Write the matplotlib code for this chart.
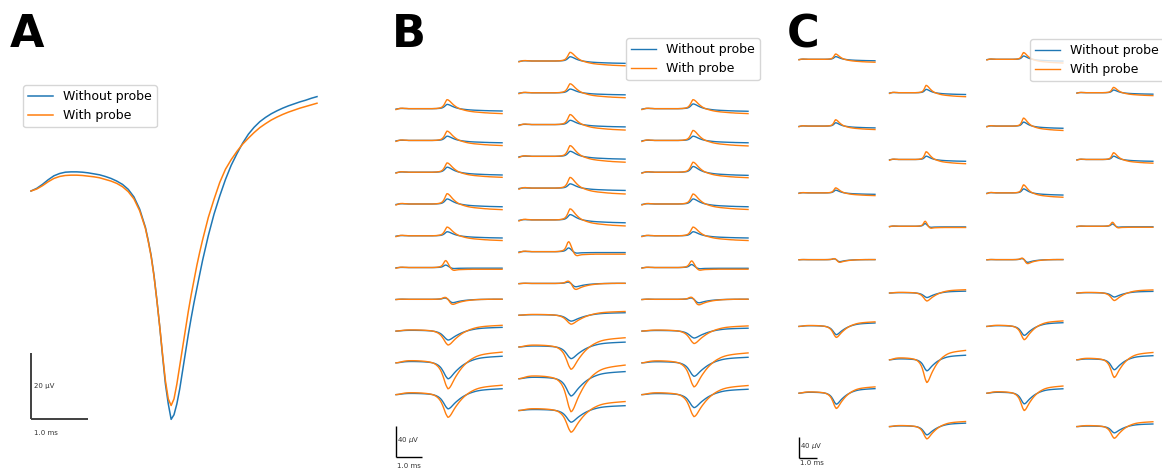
import matplotlib.pyplot as plt
import numpy as np

# ---------------------------------------------------------------- data
# sample times (ms): 0.1 ms steps, 0.05 ms around the spike
t_ms = np.concatenate([np.linspace(0, 2.0, 21), np.linspace(2.05, 3.0, 20),
                       np.linspace(3.1, 5.0, 20)])

# panel A: spike on the closest site (uV)
a_without = np.array([
    0, 0.8, 2.0, 3.4, 4.6, 5.3, 5.7, 5.8, 5.8, 5.7, 5.5, 5.2, 4.9, 4.4, 3.8, 3.0, 2.0,
    0.5, -1.8, -5.5, -11,
    -15, -19.5, -25.5, -33, -41, -50, -58.5, -64.5, -69.2, -67.8, -64.5, -60, -54.5,
    -49, -43.5, -38.5, -33.8, -29.5, -25.2, -21,
    -13.5, -7, -1.5, 3.5, 7.8, 11.3, 14.5, 17.2, 19.3, 21, 22.3, 23.4, 24.3, 25.1,
    25.8, 26.4, 27, 27.5, 28.1, 28.6])
a_with = np.array([
    0, 0.6, 1.6, 2.8, 3.8, 4.4, 4.7, 4.8, 4.8, 4.7, 4.5, 4.3, 4.0, 3.5, 3.0, 2.3, 1.3,
    -0.2, -2.4, -6.0, -11.3,
    -15.3, -19.8, -25.8, -33, -41, -49.5, -57.5, -63, -65, -63, -58.5, -53, -47.5,
    -42, -36.5, -31.5, -27, -22.5, -18.5, -14.8,
    -8, -2.5, 2.6, 6.6, 9.5, 12.0, 14.2, 16.0, 17.7, 19.2, 20.4, 21.5, 22.4, 23.2,
    23.9, 24.5, 25.1, 25.6, 26.1, 26.6])

# normalised spike shapes seen along the probe
shape_up = np.array([
    -0.1, -0.02, 0.04, 0.05, 0.03, 0.02, 0, 0, 0, 0, 0, 0, 0, 0, 0, 0, 0, 0,
    0.01, 0.02, 0.05,
    0.07, 0.1, 0.15, 0.24, 0.38, 0.58, 0.82, 1.0, 0.98, 0.9, 0.8, 0.68, 0.56, 0.45,
    0.35, 0.26, 0.18, 0.11, 0.05, 0.0,
    -0.08, -0.15, -0.21, -0.26, -0.3, -0.33, -0.36, -0.38, -0.4, -0.42, -0.44, -0.46,
    -0.47, -0.49, -0.5, -0.51, -0.52, -0.53, -0.54, -0.55])
shape_bi = np.array([
    -0.1, -0.02, 0.04, 0.05, 0.03, 0.02, 0, 0, 0, 0, 0, 0, 0, 0, 0, 0, 0, 0,
    0.01, 0.03, 0.07,
    0.1, 0.15, 0.24, 0.4, 0.65, 0.92, 1.0, 0.85, 0.6, 0.32, 0.05, -0.16, -0.3, -0.38,
    -0.4, -0.38, -0.35, -0.33, -0.31, -0.3,
    -0.29, -0.28, -0.27, -0.26, -0.26, -0.25, -0.25, -0.25, -0.25, -0.25, -0.25,
    -0.25, -0.25, -0.25, -0.25, -0.25, -0.25, -0.25, -0.25, -0.25])
shape_dip = np.array([
    -0.05, -0.01, 0.02, 0.03, 0.02, 0.01, 0, 0, 0, 0, 0, 0, 0, 0, 0, 0, 0, 0,
    0.01, 0.02, 0.05,
    0.07, 0.1, 0.15, 0.24, 0.33, 0.38, 0.36, 0.2, 0.0, -0.3, -0.62, -0.86, -0.98,
    -1.0, -0.95, -0.87, -0.79, -0.71, -0.64, -0.57,
    -0.46, -0.37, -0.29, -0.23, -0.18, -0.14, -0.1, -0.07, -0.05, -0.03, -0.02,
    -0.01, 0.0, 0.01, 0.01, 0.02, 0.02, 0.02, 0.02, 0.02])
shape_down = a_without / -a_without.min()
shapes = {"up": shape_up, "bi": shape_bi, "dip": shape_dip, "down": shape_down}

# panel B: 3-column probe (10 / 12 / 10 sites), amplitudes in uV
b1_kind = ["up", "up", "up", "up", "up", "bi", "dip", "down", "down", "down"]
b1_without = [5.5, 5.5, 6.5, 6.5, 5.2, 3.2, 4.3, 11.6, 20.6, 18.4]
b1_with = [11.6, 12.0, 12.0, 13.3, 11.2, 9.0, 6.5, 18.0, 33.5, 29.3]

b2_kind = ["up", "up", "up", "up", "up", "up", "bi", "dip", "down", "down", "down", "down"]
b2_without = [5.5, 4.8, 5.5, 6.5, 5.5, 6.8, 4.8, 4.3, 7.7, 15.1, 22.3, 15.1]
b2_with = [11.2, 11.6, 12.9, 13.8, 13.8, 14.2, 12.9, 7.7, 11.6, 28.8, 42.6, 28.0]

b3_kind = ["up", "up", "up", "up", "up", "bi", "dip", "down", "down", "down"]
b3_without = [6.1, 5.5, 7.4, 6.5, 5.2, 3.9, 4.5, 9.0, 17.4, 16.8]
b3_with = [11.6, 12.9, 12.9, 12.9, 11.2, 8.6, 7.1, 16.1, 31.0, 28.4]

# panel C: 4-column staggered probe (6 sites per column), amplitudes in uV
c1_kind = ["up", "up", "up", "dip", "down", "down"]
c1_without = [5.1, 6.3, 5.1, 3.8, 15.8, 21.0]
c1_with = [10.1, 12.0, 9.5, 5.1, 21.0, 29.1]

c2_kind = ["up", "up", "bi", "down", "down", "down"]
c2_without = [6.3, 6.3, 5.1, 8.6, 21.0, 15.8]
c2_with = [13.9, 14.7, 9.5, 15.2, 43.2, 23.4]

c3_kind = ["up", "up", "up", "dip", "down", "down"]
c3_without = [6.3, 7.6, 7.6, 5.1, 17.1, 20.4]
c3_with = [12.8, 15.2, 15.2, 7.6, 25.3, 33.0]

c4_kind = ["up", "up", "bi", "down", "down", "down"]
c4_without = [5.1, 6.3, 4.4, 7.6, 19.0, 12.0]
c4_with = [10.1, 12.8, 7.6, 14.3, 33.7, 22.3]

labels = ["Without probe", "With probe"]
BLUE, ORANGE = "#1f77b4", "#ff7f0e"

# ---------------------------------------------------------------- figure
W, H = 1162, 468
fig = plt.figure(figsize=(W / 100, H / 100), dpi=100)


def panel_axes(box, origin, scale):
    # box: pixel (left, top, right, bottom); origin: pixel of data (0, 0)
    x0, y0, x1, y1 = box
    ox, oy = origin
    sx, sy = scale
    ax = fig.add_axes([x0 / W, 1 - y1 / H, (x1 - x0) / W, (y1 - y0) / H])
    ax.set_xlim((x0 - ox) / sx, (x1 - ox) / sx)
    ax.set_ylim((oy - y1) / sy, (oy - y0) / sy)
    ax.axis("off")
    return ax


def draw_probe(ax, cols, col_x, col_top, pitch, span):
    tt = t_ms * span / t_ms[-1]
    for (kinds, wo, w), x0, y0 in zip(cols, col_x, col_top):
        for i, kind in enumerate(kinds):
            y = y0 - i * pitch
            l1, = ax.plot(x0 + tt, y + wo[i] * shapes[kind], color=BLUE, lw=1.0)
            l2, = ax.plot(x0 + tt, y + w[i] * shapes[kind], color=ORANGE, lw=1.0)
    return l1, l2


def scale_bar(ax, x, y, dy, ytxt, label_v, ytxt2, color="k", lw=1.0):
    ax.plot([x, x], [y, y + dy], color=color, lw=lw, solid_capstyle="butt")
    ax.plot([x, x + 1.0], [y, y], color=color, lw=lw, solid_capstyle="butt")
    ax.text(x + 0.05, ytxt, label_v, fontsize=5, color="0.2", va="center")
    ax.text(x + 0.05, ytxt2, "1.0 ms", fontsize=5, color="0.2", va="center")


def legend(ax, handles, px, py):
    ax.legend(handles, labels, loc="upper left", fontsize=9,
              bbox_to_anchor=(px / W, 1 - py / H), bbox_transform=fig.transFigure,
              borderaxespad=0)


# A
axA = panel_axes((20, 60, 330, 452), (31, 191), (57.2, 3.3))
la, = axA.plot(t_ms, a_without, color=BLUE, lw=1.1)
lb, = axA.plot(t_ms, a_with, color=ORANGE, lw=1.1)
ymin = a_without.min()
scale_bar(axA, 0, ymin, 20, ymin + 10, "20 µV", ymin - 4.1, color="0.25", lw=1.4)
legend(axA, [la, lb], 23, 85)

# B
axB = panel_axes((385, 30, 775, 468), (396, 61), (26.0, 0.775))
hB = draw_probe(axB,
                [(b1_kind, b1_without, b1_with),
                 (b2_kind, b2_without, b2_with),
                 (b3_kind, b3_without, b3_with)],
                col_x=[0.0, 4.73, 9.46], col_top=[-61.5, 0.0, -61.5],
                pitch=41.0, span=4.08)
scale_bar(axB, 0, -511.6, 40, -489, r"40 $\mu$V", -522.6)
legend(axB, hB, 626, 38)

# C
axC = panel_axes((780, 30, 1162, 468), (799, 59.3), (18.0, 0.525))
hC = draw_probe(axC,
                [(c1_kind, c1_without, c1_with),
                 (c2_kind, c2_without, c2_with),
                 (c3_kind, c3_without, c3_with),
                 (c4_kind, c4_without, c4_with)],
                col_x=[0.0, 5.03, 10.44, 15.44], col_top=[0.0, -63.6, 0.0, -63.6],
                pitch=127.2, span=4.22)
scale_bar(axC, 0, -759.4, 40, -736.6, r"40 $\mu$V", -768.4)
legend(axC, hC, 1030, 39)

# panel letters
for x, letter in [(10, "A"), (392, "B"), (787, "C")]:
    fig.text(x / W, 1 - 47 / H, letter, fontsize=32, fontweight="bold", va="baseline")

fig.savefig("out.png", dpi=100)
